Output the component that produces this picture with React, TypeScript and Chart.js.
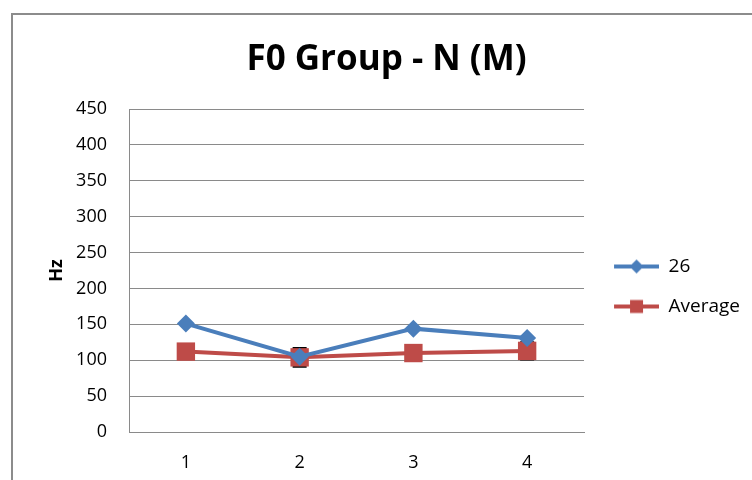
import React, { useEffect, useRef } from 'react';
import { Chart, registerables } from 'chart.js';

Chart.register(...registerables);

const categories = ['1', '2', '3', '4'];
const series26 = [151, 105, 144, 131];
const seriesAverage = [112, 104, 110, 113];
const averageError = [10, 13, 10, 12];
const yMin = 0;
const yMax = 450;
const yStep = 50;
const chartTitle = 'F0 Group - N (M)';
const yAxisTitle = 'Hz';
const seriesNames = ['26', 'Average'];

const BLUE = '#4A7EBB';
const RED = '#BE4B48';
const GRID = '#8A8A8A';
const FONT = "'Open Sans', 'Noto Sans', sans-serif";

function makeLegendIcon(color: string, style: 'diamond' | 'square'): HTMLCanvasElement {
  const c = document.createElement('canvas');
  const w = 54;
  const h = 20;
  c.width = w;
  c.height = h;
  const ctx = c.getContext('2d')!;
  const x0 = 9;
  ctx.strokeStyle = color;
  ctx.lineWidth = 4;
  ctx.beginPath();
  ctx.moveTo(x0, h / 2);
  ctx.lineTo(w, h / 2);
  ctx.stroke();
  const cx = (x0 + w) / 2;
  const cy = h / 2;
  ctx.fillStyle = color;
  ctx.beginPath();
  if (style === 'diamond') {
    ctx.moveTo(cx, cy - 7);
    ctx.lineTo(cx + 7, cy);
    ctx.lineTo(cx, cy + 7);
    ctx.lineTo(cx - 7, cy);
    ctx.closePath();
  } else {
    ctx.rect(cx - 6.5, cy - 6.5, 13, 13);
  }
  ctx.fill();
  return c;
}

const frameAndErrorPlugin = {
  id: 'frameAndError',
  beforeDraw(chart: any) {
    const ctx = chart.ctx;
    ctx.save();
    ctx.fillStyle = '#ffffff';
    ctx.fillRect(0, 0, chart.width, chart.height);
    ctx.strokeStyle = '#8C8C8C';
    ctx.lineWidth = 2;
    ctx.strokeRect(12, 14, chart.width + 20, chart.height + 20);
    ctx.restore();
  },
  beforeDatasetsDraw(chart: any) {
    const ctx = chart.ctx;
    const meta = chart.getDatasetMeta(1);
    const yScale = chart.scales.y;
    ctx.save();
    ctx.strokeStyle = '#000000';
    ctx.lineWidth = 2;
    meta.data.forEach((pt: any, i: number) => {
      const v = seriesAverage[i];
      const e = averageError[i];
      const yTop = yScale.getPixelForValue(v + e);
      const yBot = yScale.getPixelForValue(v - e);
      const x = pt.x;
      ctx.beginPath();
      ctx.moveTo(x, yTop);
      ctx.lineTo(x, yBot);
      ctx.moveTo(x - 7, yTop);
      ctx.lineTo(x + 7, yTop);
      ctx.moveTo(x - 7, yBot);
      ctx.lineTo(x + 7, yBot);
      ctx.stroke();
    });
    ctx.restore();
  },
};

export default function App() {
  const ref = useRef<HTMLCanvasElement>(null);

  useEffect(() => {
    document.body.style.margin = '0';
    const icons = [makeLegendIcon(BLUE, 'diamond'), makeLegendIcon(RED, 'square')];
    const chart = new Chart(ref.current!, {
      type: 'line',
      data: {
        labels: categories,
        datasets: [
          {
            label: seriesNames[0],
            data: series26,
            borderColor: BLUE,
            backgroundColor: BLUE,
            borderWidth: 4,
            pointStyle: 'rectRot',
            pointRadius: 9,
            pointHoverRadius: 9,
            pointBorderWidth: 0,
            tension: 0,
          },
          {
            label: seriesNames[1],
            data: seriesAverage,
            borderColor: RED,
            backgroundColor: RED,
            borderWidth: 4,
            pointStyle: 'rect',
            pointRadius: 13,
            pointHoverRadius: 13,
            pointBorderWidth: 0,
            tension: 0,
          },
        ],
      },
      options: {
        animation: false,
        responsive: false,
        maintainAspectRatio: false,
        layout: { padding: { left: 23, right: 2, top: 0, bottom: 0 } },
        plugins: {
          title: {
            display: true,
            text: chartTitle,
            color: '#000000',
            font: { family: FONT, size: 35, weight: 'bold' },
            padding: { top: 39, bottom: 28 },
          },
          legend: {
            display: true,
            position: 'right',
            fullSize: false,
            align: 'center',
            title: { display: true, text: ' ', font: { size: 10 }, padding: 10 },
            labels: {
              color: '#000000',
              font: { family: FONT, size: 19 },
              usePointStyle: true,
              pointStyleWidth: 54,
              padding: 21,
              generateLabels: (ch: any) =>
                ch.data.datasets.map((ds: any, i: number) => ({
                  text: ds.label,
                  fillStyle: ds.backgroundColor,
                  strokeStyle: ds.borderColor,
                  lineWidth: 0,
                  pointStyle: icons[i],
                  hidden: false,
                  datasetIndex: i,
                  fontColor: '#000000',
                })),
            },
          },
          tooltip: { enabled: false },
        },
        scales: {
          x: {
            type: 'category',
            offset: true,
            grid: { display: false, drawTicks: false },
            border: { display: true, color: GRID, width: 1 },
            ticks: { color: '#000000', font: { family: FONT, size: 18 }, padding: 20 },
            afterFit: (s: any) => {
              s.height = 48;
            },
          },
          y: {
            min: yMin,
            max: yMax,
            ticks: {
              stepSize: yStep,
              color: '#000000',
              font: { family: FONT, size: 18 },
              padding: 22,
            },
            grid: { color: GRID, drawTicks: false, lineWidth: 1 },
            border: { display: true, color: GRID, width: 1 },
            title: {
              display: true,
              text: yAxisTitle,
              color: '#000000',
              font: { family: FONT, size: 18, weight: 'bold' },
              padding: { top: 23, bottom: 0 },
            },
            afterFit: (s: any) => {
              s.width = 106;
            },
          },
        },
      },
      plugins: [frameAndErrorPlugin],
    });
    return () => chart.destroy();
  }, []);

  return (
    <div style={{ position: 'absolute', left: 0, top: 0, width: 752, height: 480, background: '#fff' }}>
      <canvas ref={ref} width={752} height={480} style={{ width: 752, height: 480 }} />
    </div>
  );
}
